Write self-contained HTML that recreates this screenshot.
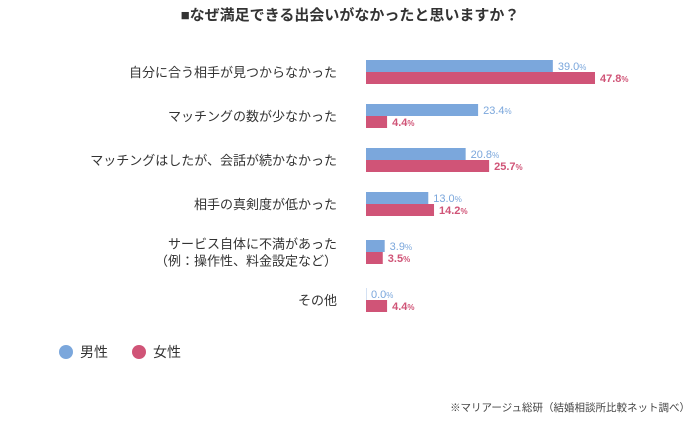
<!DOCTYPE html>
<html><head><meta charset="utf-8"><style>
body{margin:0;background:#fff;font-family:"Liberation Sans","Noto Sans CJK JP",sans-serif;}
svg text{font-family:"Liberation Sans","Noto Sans CJK JP",sans-serif;}
</style></head><body>
<svg width="700" height="416">
<text x="350" y="20" text-anchor="middle" font-size="15" font-weight="bold" fill="#333">■なぜ満足できる出会いがなかったと思いますか？</text>
<g id="bars"></g>
<g>
<circle cx="66" cy="352" r="7" fill="#7ba7dc"/>
<text x="80" y="357" font-size="14" fill="#333">男性</text>
<circle cx="139" cy="352" r="7" fill="#d05477"/>
<text x="153" y="357" font-size="14" fill="#333">女性</text>
</g>
<text x="690" y="411" text-anchor="end" font-size="10.5" fill="#444">※マリアージュ総研（結婚相談所比較ネット調べ）</text>
</svg>
<script>
const categories=[["自分に合う相手が見つからなかった"],["マッチングの数が少なかった"],["マッチングはしたが、会話が続かなかった"],["相手の真剣度が低かった"],["サービス自体に不満があった","（例：操作性、料金設定など）"],["その他"]];
const maleValues=[39.0,23.4,20.8,13.0,3.9,0.0];
const femaleValues=[47.8,4.4,25.7,14.2,3.5,4.4];
const rowTops=[60,104,148,192,240,288];
const NS="http://www.w3.org/2000/svg";
const g=document.getElementById('bars');
const x0=366, scale=229/47.8;
function xs(v){return v*scale;}
function mk(tag,attrs){const e=document.createElementNS(NS,tag);for(const k in attrs)e.setAttribute(k,attrs[k]);g.appendChild(e);return e;}
function valLabel(x,y,v,color,bold){
 const t=mk('text',{x:x,y:y,'font-size':11,fill:color,'font-weight':bold?'bold':'normal'});
 
 
 t.textContent=v.toFixed(1);
 const s=document.createElementNS(NS,'tspan');s.setAttribute('font-size','8');s.textContent='%';t.appendChild(s);
}
categories.forEach((c,i)=>{
 const top=rowTops[i];
 const mid=top+12;
 c.forEach((line,j)=>{
  const t=mk('text',{x:337,y:mid+5+(j-(c.length-1)/2)*17,'text-anchor':'end','font-size':13,fill:'#333'});
  
  
  t.textContent=line;
 });
 const mw=xs(maleValues[i]);
 const m=mk('rect',{x:x0,y:top,width:Math.max(mw,0.8),height:12,fill:maleValues[i]>0?'#7ba7dc':'#c9daf0'});
 
 
 valLabel(x0+mw+5,top+10,maleValues[i],'#7ba7dc',false);
 const fw=xs(femaleValues[i]);
 const f=mk('rect',{x:x0,y:top+12,width:fw,height:12,fill:'#d05477'});
 
 
 valLabel(x0+fw+5,top+22,femaleValues[i],'#d05477',true);
});
</script>
</body></html>
